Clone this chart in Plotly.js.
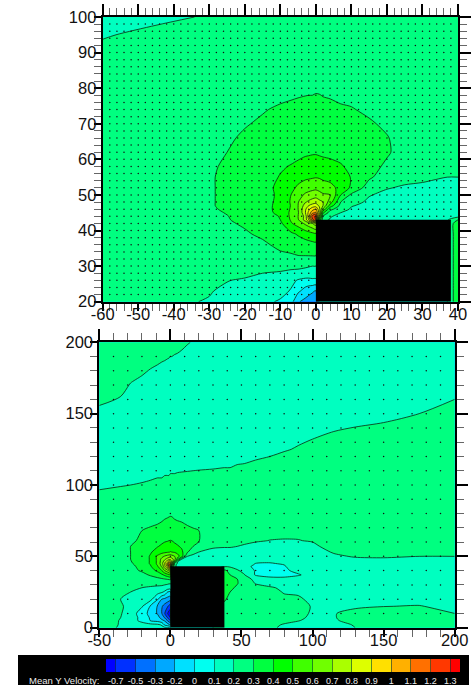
<!DOCTYPE html>
<html><head><meta charset="utf-8">
<script src="https://cdn.plot.ly/plotly-3.0.1.min.js"></script>
<style>html,body{margin:0;padding:0;background:#fff}#c{width:472px;height:685px}</style>
</head><body><div id="c"></div>
<script>
const levels=[-0.7,-0.5,-0.3,-0.2,0,0.1,0.2,0.3,0.4,0.5,0.6,0.7,0.8,0.9,1,1.1,1.2,1.3];
const levelLabels=['-0.7','-0.5','-0.3','-0.2','0','0.1','0.2','0.3','0.4','0.5','0.6','0.7','0.8','0.9','1','1.1','1.2','1.3'];
const bandColors=['#0000ff','#0030ff','#0070ff','#00a8ff','#00e0ff','#00fff0','#00ffc0','#00ff80','#00ff40','#00ff00','#40ff00','#70ff00','#aaff00','#ddff00','#ffe000','#ffb000','#ff7000','#ff3800','#ff0000'];
const legendTitle='Mean Y Velocity:';

const topX=[-60,-45,-30,-25,-20,-15,-10,-7,-5,-3,-2,-1,0,1,2,4,7,10,15,20,25,30,37,40];
const topY=[20,23,26,28,30,33,36,39,42,43,44,45,46,47,48,50,52,55,58,62,66,70,74,78,82,90,95,100];
const topZ=[
[.24,.22,.195,.18,.16,.13,.085,.04,-.18,-.23,-.25,-.27,-.28,.15,.15,.15,.15,.15,.15,.15,.15,.15,.2,.38],
[.25,.23,.205,.185,.17,.15,.14,.09,.02,-.08,-.13,-.17,-.21,.15,.15,.15,.15,.15,.15,.15,.15,.15,.2,.38],
[.25,.24,.225,.203,.19,.18,.16,.13,.09,.07,.07,.08,.08,.15,.15,.15,.15,.15,.15,.15,.15,.15,.2,.38],
[.26,.25,.24,.23,.22,.2,.19,.18,.18,.17,.165,.16,.16,.15,.15,.15,.15,.15,.15,.15,.15,.15,.2,.38],
[.26,.255,.25,.25,.245,.24,.23,.22,.215,.21,.205,.2,.2,.15,.15,.15,.15,.15,.15,.15,.15,.15,.2,.38],
[.26,.26,.26,.265,.27,.275,.285,.29,.3,.302,.303,.304,.305,.15,.15,.15,.15,.15,.15,.15,.15,.15,.2,.38],
[.26,.265,.27,.275,.28,.285,.32,.34,.35,.36,.365,.37,.375,.15,.15,.15,.15,.15,.15,.15,.15,.15,.2,.38],
[.26,.265,.275,.285,.29,.315,.35,.38,.41,.44,.455,.47,.48,.15,.15,.15,.15,.15,.15,.15,.15,.15,.2,.38],
[.26,.265,.28,.29,.31,.345,.38,.49,.54,.62,.66,.7,.76,.15,.15,.15,.15,.15,.15,.15,.15,.15,.2,.38],
[.26,.265,.285,.295,.32,.355,.4,.51,.59,.74,.9,1.16,1.3,.45,.25,.19,.16,.15,.15,.15,.15,.15,.19,.3],
[.26,.265,.285,.298,.32,.36,.405,.52,.6,.73,.96,1.24,1.33,.8,.3,.21,.17,.16,.155,.15,.15,.15,.17,.17],
[.26,.265,.287,.303,.33,.37,.42,.52,.59,.79,.93,1.07,1.12,.85,.42,.25,.2,.17,.16,.15,.15,.15,.16,.16],
[.26,.27,.29,.31,.34,.37,.425,.51,.6,.78,.88,.96,1,.83,.58,.33,.24,.19,.17,.155,.155,.15,.16,.16],
[.26,.27,.295,.31,.34,.375,.42,.505,.6,.74,.8,.84,.85,.78,.7,.46,.27,.205,.18,.165,.16,.155,.16,.16],
[.26,.27,.295,.31,.34,.37,.42,.51,.595,.69,.72,.75,.77,.73,.7,.55,.3,.23,.185,.17,.165,.16,.16,.16],
[.26,.27,.295,.31,.34,.37,.415,.5,.56,.615,.63,.64,.65,.63,.61,.605,.4,.28,.205,.18,.175,.17,.165,.165],
[.26,.27,.295,.31,.34,.37,.42,.47,.52,.555,.565,.575,.58,.57,.56,.54,.46,.385,.25,.205,.19,.185,.175,.175],
[.26,.27,.295,.31,.335,.365,.405,.44,.46,.48,.485,.49,.495,.49,.475,.46,.44,.395,.315,.25,.225,.215,.2,.2],
[.26,.27,.29,.31,.33,.355,.39,.405,.42,.435,.44,.445,.45,.445,.44,.43,.41,.375,.33,.285,.25,.24,.225,.225],
[.255,.265,.285,.3,.32,.34,.36,.37,.375,.385,.387,.39,.39,.385,.38,.375,.365,.345,.325,.31,.265,.25,.24,.24],
[.25,.26,.275,.29,.31,.325,.34,.35,.352,.355,.357,.358,.36,.355,.35,.345,.335,.325,.315,.305,.265,.25,.245,.245],
[.245,.255,.265,.275,.295,.31,.325,.33,.335,.338,.339,.34,.34,.335,.33,.325,.315,.31,.31,.285,.255,.25,.245,.245],
[.24,.25,.26,.265,.28,.295,.31,.315,.318,.32,.32,.32,.32,.32,.318,.315,.31,.305,.285,.265,.25,.245,.24,.24],
[.235,.245,.25,.255,.265,.275,.285,.292,.296,.299,.3,.3,.303,.302,.298,.295,.285,.28,.265,.25,.245,.24,.235,.235],
[.23,.24,.24,.245,.25,.255,.265,.27,.275,.278,.28,.28,.28,.275,.27,.265,.26,.26,.25,.24,.235,.23,.23,.23],
[.215,.23,.235,.235,.24,.24,.245,.25,.255,.258,.26,.26,.26,.25,.25,.245,.24,.24,.235,.23,.225,.225,.225,.225],
[.195,.215,.225,.23,.235,.235,.24,.24,.245,.248,.25,.25,.25,.24,.24,.235,.23,.23,.225,.225,.22,.22,.22,.22],
[.18,.187,.205,.215,.225,.23,.235,.24,.24,.24,.24,.24,.24,.23,.23,.23,.225,.225,.22,.22,.215,.215,.215,.215]
];

const botX=[-50,-35,-28,-20,-14,-9,-6,-4,-2,-1,0,1,3,5,8,12,16,20,30,38,42,47,52,60,70,80,90,100,115,130,150,175,200];
const botY=[0,2,5,7,10,15,20,25,28,31,34,37,40,43,44,45,46,48,50,53,57,61,68,78,90,100,110,125,150,170,190,200];
const botZ=[
[.212,.197,.19,.17,.15,.135,.125,.12,.115,.11,.105,.2,.2,.2,.2,.2,.2,.2,.2,.22,.23,.23,.225,.22,.21,.19,.16,.16,.17,.2,.22,.225,.215],
[.215,.198,.18,.16,.13,.12,.09,-.03,-.1,-.16,-.2,.2,.2,.2,.2,.2,.2,.2,.2,.22,.23,.235,.23,.225,.215,.195,.165,.16,.175,.205,.225,.23,.22],
[.22,.198,.17,.06,-.01,-.07,-.15,-.21,-.31,-.4,-.5,.2,.2,.2,.2,.2,.2,.2,.2,.22,.235,.24,.235,.23,.225,.215,.205,.17,.195,.215,.235,.24,.225],
[.22,.2,.17,.06,-.02,-.12,-.24,-.31,-.5,-.62,-.7,.2,.2,.2,.2,.2,.2,.2,.2,.23,.24,.24,.24,.235,.23,.225,.215,.185,.197,.22,.24,.245,.23],
[.22,.205,.165,.04,-.05,-.21,-.3,-.49,-.69,-.78,-.82,.2,.2,.2,.2,.2,.2,.2,.2,.25,.245,.245,.24,.24,.235,.23,.225,.19,.195,.23,.25,.25,.2],
[.22,.21,.175,.11,-.02,-.21,-.29,-.38,-.48,-.55,-.62,.2,.2,.2,.2,.2,.2,.2,.2,.28,.27,.25,.245,.24,.235,.23,.225,.195,.17,.185,.198,.205,.17],
[.22,.2,.185,.155,.13,.01,-.2,-.22,-.24,-.25,-.26,.2,.2,.2,.2,.2,.2,.2,.2,.31,.28,.26,.25,.235,.225,.215,.215,.175,.155,.16,.165,.165,.15],
[.22,.21,.2,.18,.165,.135,.115,.08,0,-.03,-.05,.2,.2,.2,.2,.2,.2,.2,.2,.33,.3,.28,.26,.24,.225,.195,.185,.165,.15,.155,.155,.155,.15],
[.225,.225,.215,.2,.19,.185,.18,.17,.16,.155,.15,.2,.2,.2,.2,.2,.2,.2,.2,.33,.32,.285,.26,.235,.21,.185,.175,.16,.15,.15,.15,.15,.15],
[.23,.23,.225,.225,.225,.22,.22,.215,.21,.205,.205,.2,.2,.2,.2,.2,.2,.2,.2,.33,.34,.305,.26,.195,.17,.165,.16,.15,.15,.15,.15,.15,.15],
[.235,.24,.24,.25,.26,.275,.285,.295,.305,.31,.315,.2,.2,.2,.2,.2,.2,.2,.2,.33,.34,.302,.25,.17,.15,.145,.15,.15,.15,.15,.15,.15,.15],
[.24,.25,.26,.275,.31,.345,.38,.42,.46,.48,.49,.2,.2,.2,.2,.2,.2,.2,.2,.33,.3,.24,.205,.09,.05,.05,.09,.14,.15,.15,.15,.15,.15],
[.24,.255,.275,.31,.36,.42,.5,.6,.67,.72,.75,.2,.2,.2,.2,.2,.2,.2,.2,.32,.27,.21,.175,.09,.06,.08,.13,.14,.15,.15,.15,.15,.15],
[.24,.26,.28,.325,.39,.49,.62,.78,.95,1.15,1.25,.5,.21,.19,.18,.17,.17,.17,.17,.19,.185,.17,.13,.08,.07,.095,.135,.145,.15,.15,.16,.16,.16],
[.24,.26,.285,.33,.4,.51,.64,.79,.98,1.2,1.3,.8,.22,.18,.17,.165,.165,.165,.165,.165,.17,.16,.14,.09,.08,.1,.14,.145,.15,.165,.17,.17,.17],
[.24,.26,.29,.34,.41,.52,.66,.8,1,1.15,1.15,.85,.28,.19,.175,.165,.165,.165,.165,.17,.17,.16,.14,.098,.09,.115,.14,.145,.155,.17,.175,.175,.175],
[.24,.26,.295,.34,.41,.52,.65,.77,.9,1,1,.8,.42,.2,.18,.17,.165,.165,.165,.17,.17,.165,.15,.12,.11,.13,.145,.15,.16,.175,.18,.18,.18],
[.24,.26,.3,.34,.41,.52,.63,.68,.74,.77,.78,.74,.66,.45,.2,.18,.175,.17,.17,.17,.17,.165,.16,.15,.14,.15,.155,.16,.175,.19,.195,.195,.195],
[.24,.26,.3,.34,.41,.52,.57,.61,.64,.65,.66,.64,.6,.54,.44,.2,.185,.175,.17,.17,.175,.17,.165,.16,.155,.16,.16,.165,.19,.205,.205,.2,.2],
[.24,.26,.3,.335,.39,.44,.47,.48,.49,.495,.505,.5,.49,.47,.42,.31,.22,.2,.18,.18,.18,.18,.175,.17,.165,.165,.17,.175,.205,.225,.23,.23,.23],
[.24,.26,.3,.33,.365,.395,.415,.43,.44,.44,.445,.44,.43,.41,.385,.34,.3,.26,.21,.205,.205,.2,.195,.185,.175,.175,.18,.185,.23,.24,.24,.24,.24],
[.24,.255,.285,.315,.34,.36,.38,.39,.395,.4,.402,.4,.38,.37,.36,.34,.32,.305,.23,.22,.22,.215,.21,.205,.199,.197,.198,.205,.235,.245,.245,.245,.245],
[.235,.25,.265,.3,.315,.325,.335,.34,.345,.345,.345,.345,.34,.335,.33,.32,.31,.301,.24,.23,.225,.225,.22,.22,.215,.215,.215,.22,.24,.245,.245,.245,.245],
[.23,.24,.245,.25,.26,.27,.28,.29,.295,.298,.3,.299,.29,.285,.28,.265,.255,.25,.24,.235,.23,.23,.23,.23,.225,.225,.225,.225,.235,.24,.24,.24,.24],
[.22,.225,.23,.23,.235,.24,.24,.245,.25,.25,.25,.25,.25,.245,.245,.24,.235,.235,.23,.225,.225,.225,.225,.225,.225,.225,.225,.225,.23,.235,.235,.24,.24],
[.19,.197,.2,.205,.21,.215,.215,.22,.22,.22,.22,.22,.22,.22,.22,.22,.22,.22,.22,.22,.22,.22,.22,.225,.225,.225,.23,.23,.23,.23,.235,.24,.24],
[.16,.165,.17,.175,.18,.185,.185,.19,.19,.19,.195,.195,.195,.197,.198,.199,.2,.201,.203,.205,.205,.21,.21,.215,.22,.225,.225,.225,.23,.23,.235,.24,.24],
[.14,.145,.15,.15,.155,.155,.16,.16,.16,.16,.165,.165,.165,.165,.165,.165,.165,.165,.165,.17,.17,.175,.18,.185,.19,.197,.203,.21,.22,.225,.23,.235,.24],
[.19,.185,.18,.175,.17,.165,.165,.16,.16,.16,.16,.16,.16,.16,.16,.16,.16,.16,.16,.165,.165,.165,.165,.17,.17,.175,.175,.175,.18,.185,.19,.2,.215],
[.225,.21,.198,.19,.18,.175,.17,.17,.165,.165,.165,.165,.165,.165,.165,.165,.165,.165,.165,.165,.16,.16,.165,.165,.165,.165,.165,.17,.17,.175,.175,.18,.185],
[.24,.23,.225,.22,.215,.21,.207,.205,.203,.202,.2,.2,.198,.197,.195,.19,.185,.185,.18,.175,.175,.17,.17,.17,.17,.17,.17,.17,.175,.175,.175,.175,.175],
[.25,.24,.235,.23,.225,.225,.22,.22,.215,.215,.215,.214,.212,.21,.206,.202,.198,.195,.19,.185,.18,.175,.175,.175,.175,.17,.17,.17,.17,.17,.175,.175,.175]
];

const topDotX=[-58,-56,-54,-52,-50,-48,-46,-44,-42,-40,-38,-36,-34,-32,-30,-28,-26,-24,-22,-20,-18,-16,-14,-12,-10,-8,-6,-4,-2,0,2,4,6,8,10,12,14,16,18,20,22,24,26,28,30,32,34,36,38];
const topDotY=[22,24,26,28,30,32,34,36,38,40,42,44,46,48,50,52,54,56,58,60,62,64,66,68,70,72,74,76,78,80,82,84,86,88,90,92,94,96,98];
const botDotX=[-40,-30,-20,-10,0,10,20,30,40,50,60,70,80,90,100,110,120,130,140,150,160,170,180,190];
const botDotY=[10,20,30,40,50,60,70,80,90,100,110,120,130,140,150,160,170,180,190];
const buildingX=[0,38];
const buildingTop=43;
const topRangeX=[-60,40],topRangeY=[20,100],botRangeX=[-50,200],botRangeY=[0,200];
const topTicksX=[-60,-50,-40,-30,-20,-10,0,10,20,30,40];
const topTicksY=[20,30,40,50,60,70,80,90,100];
const botTicksX=[-50,0,50,100,150,200];
const botTicksY=[0,50,100,150,200];

function bandIndex(v){
  const n=levels.length;
  if(v<levels[0])return (v-levels[0])/0.2;
  if(v>=levels[n-1])return n-1+(v-levels[n-1])/0.1;
  for(let i=0;i<n-1;i++) if(v<levels[i+1]) return i+(v-levels[i])/(levels[i+1]-levels[i]);
}
const nb=bandColors.length, scale=[];
bandColors.forEach((c,i)=>{scale.push([i/nb,c]);scale.push([(i+1)/nb,c]);});

function contour(x,y,z,xa,ya){
  return {type:'contour',x,y,z:z.map(r=>r.map(bandIndex)),xaxis:xa,yaxis:ya,zmin:-1,zmax:nb-1,zauto:false,
    autocontour:false,contours:{start:0,end:levels.length-1,size:1,coloring:'fill',showlines:true},
    colorscale:scale,showscale:false,hoverinfo:'skip',line:{color:'#0a2a10',width:0.8,smoothing:0.8}};
}
function dots(xs,ys,xa,ya){
  const px=[],py=[];
  ys.forEach(v=>xs.forEach(u=>{ if(!(u>=buildingX[0]&&u<=buildingX[1]&&v<=buildingTop)){px.push(u);py.push(v);} }));
  return {type:'scatter',mode:'markers',x:px,y:py,xaxis:xa,yaxis:ya,marker:{size:1.5,color:'#111'},hoverinfo:'skip',showlegend:false};
}
function blank(xa,ya){return {type:'scatter',mode:'markers',x:[null],y:[null],xaxis:xa,yaxis:ya,showlegend:false,hoverinfo:'skip'};}

const W=472,H=685;
const fnt={family:'"Liberation Sans",Arial,sans-serif',size:16.5,color:'#111'};
function axis(px0,px1,range,vals,minorStep,extra){
  return Object.assign({domain:[px0,px1],range,tickmode:'array',tickvals:vals,ticktext:vals.map(String),ticks:'outside',ticklen:7,tickwidth:2,tickcolor:'#000',
    showgrid:false,zeroline:false,showline:true,linewidth:2,linecolor:'#000',tickfont:fnt,automargin:false,
    minor:{dtick:minorStep,ticks:'outside',ticklen:7,tickwidth:1,tickcolor:'#666',showgrid:false}},extra);
}
const tx=[102.7/W,458/W],ty=[1-301.7/H,1-17/H],bx=[99.3/W,454.7/W],by=[1-627.7/H,1-342.3/H];
const layout={width:W,height:H,margin:{l:0,r:0,t:0,b:0},paper_bgcolor:'#fff',plot_bgcolor:'#fff',showlegend:false,font:fnt,
  xaxis:axis(tx[0],tx[1],topRangeX,topTicksX,2,{anchor:'y',ticklabelstandoff:-11}),
  yaxis:axis(ty[0],ty[1],topRangeY,topTicksY,2,{anchor:'x',ticklabelstandoff:-6}),
  xaxis3:axis(tx[0],tx[1],topRangeX,topTicksX,2,{anchor:'y',overlaying:'x',side:'top',ticklen:11,showticklabels:false}),
  yaxis3:axis(ty[0],ty[1],topRangeY,topTicksY,2,{anchor:'x',overlaying:'y',side:'right',ticklen:11,showticklabels:false}),
  xaxis2:axis(bx[0],bx[1],botRangeX,botTicksX,10,{anchor:'y2',ticklabelstandoff:-11}),
  yaxis2:axis(by[0],by[1],botRangeY,botTicksY,10,{anchor:'x2',ticklabelstandoff:-6}),
  xaxis4:axis(bx[0],bx[1],botRangeX,botTicksX,10,{anchor:'y2',overlaying:'x2',side:'top',ticklen:11,showticklabels:false}),
  yaxis4:axis(by[0],by[1],botRangeY,botTicksY,10,{anchor:'x2',overlaying:'y2',side:'right',ticklen:11,showticklabels:false}),
  xaxis5:{domain:[106/W,460/W],range:[-0.5,levels.length-0.5],anchor:'y5',tickmode:'array',tickvals:levels.map((_,i)=>i),ticktext:levelLabels,ticks:'inside',ticklen:13,tickwidth:0.6,tickcolor:'#0a3a30',ticklabelstandoff:2,
    tickfont:{family:fnt.family,size:9,color:'#eee'},showgrid:false,zeroline:false,showline:false},
  yaxis5:{domain:[1-672/H,1-659/H],range:[0,1],anchor:'x5',showticklabels:false,ticks:'',showgrid:false,zeroline:false,showline:false},
  shapes:[
    {type:'rect',xref:'paper',yref:'paper',x0:18/W,x1:469/W,y0:0,y1:1-655/H,fillcolor:'#000',line:{width:0},layer:'below'},
    {type:'rect',xref:'x',yref:'y',x0:buildingX[0],x1:buildingX[1],y0:topRangeY[0],y1:buildingTop,fillcolor:'#000',line:{width:0},layer:'above'},
    {type:'rect',xref:'x2',yref:'y2',x0:buildingX[0],x1:buildingX[1],y0:botRangeY[0],y1:buildingTop,fillcolor:'#000',line:{width:0},layer:'above'}
  ],
  annotations:[{xref:'paper',yref:'paper',x:101/W,y:1-680.7/H,xanchor:'right',yanchor:'middle',showarrow:false,text:legendTitle,font:{family:fnt.family,size:9.5,color:'#eee'}}]
};
const edges=[-0.5].concat(levels.map((_,i)=>i),[levels.length-0.5]);
const data=[
  contour(topX,topY,topZ,'x','y'),dots(topDotX,topDotY,'x','y'),
  contour(botX,botY,botZ,'x2','y2'),dots(botDotX,botDotY,'x2','y2'),
  blank('x3','y'),blank('x','y3'),blank('x4','y2'),blank('x2','y4'),
  {type:'heatmap',x:edges,y:[0,1],z:[bandColors.map((_,i)=>i)],xaxis:'x5',yaxis:'y5',zmin:-0.5,zmax:nb-0.5,zauto:false,colorscale:scale,showscale:false,hoverinfo:'skip'}
];
Plotly.newPlot('c',data,layout,{staticPlot:true,displayModeBar:false});
</script></body></html>
